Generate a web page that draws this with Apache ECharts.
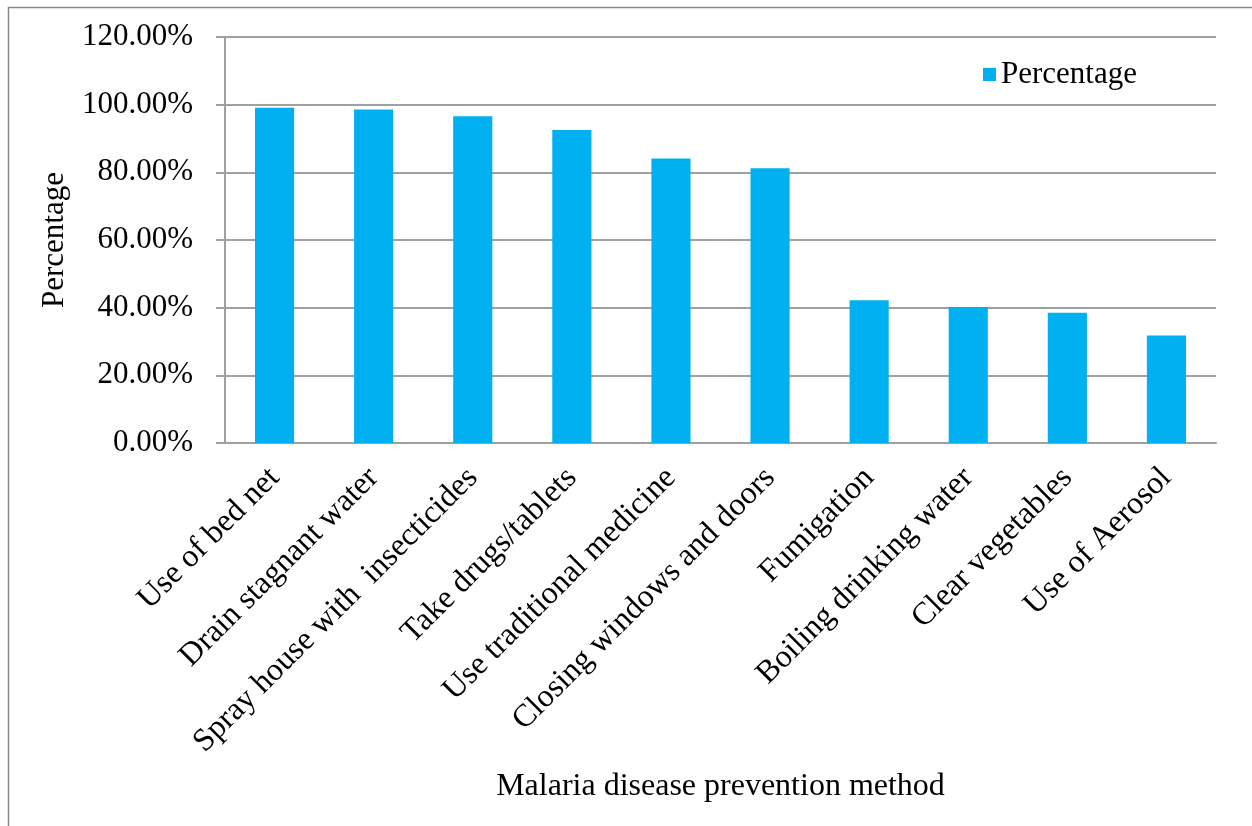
<!DOCTYPE html>
<html>
<head>
<meta charset="utf-8">
<script src="https://cdn.jsdelivr.net/npm/echarts@6/dist/echarts.min.js"></script>
<style>
  html, body { margin: 0; padding: 0; background: #fff; }
  #chart { width: 1252px; height: 826px; }
</style>
</head>
<body>
<div id="chart"></div>
<script>
// Malaria prevention methods and share of respondents using each (%)
const categories = [
  'Use of bed net',
  'Drain stagnant water',
  'Spray house with  insecticides',
  'Take drugs/tablets',
  'Use traditional medicine',
  'Closing windows and doors',
  'Fumigation',
  'Boiling drinking water',
  'Clear vegetables',
  'Use of Aerosol'
];
const percentages = [99.1, 98.6, 96.6, 92.5, 84.1, 81.2, 42.2, 40.2, 38.5, 31.8];
const seriesName = 'Percentage';
const xTitle = 'Malaria disease prevention method';
const yTitle = 'Percentage';

const FONT = '"Liberation Serif", "Times New Roman", serif';
const GRID_COLOR = '#a0a0a0';

const chart = echarts.init(document.getElementById('chart'), null, { renderer: 'canvas' });
chart.setOption({
  backgroundColor: '#ffffff',
  animation: false,
  graphic: [{
    type: 'rect',
    shape: { x: 8.5, y: 7.5, width: 1260, height: 840 },
    style: { fill: 'none', stroke: '#888888', lineWidth: 1.5 },
    silent: true
  }],
  grid: { left: 225, right: 36, top: 37, bottom: 383, containLabel: false },
  legend: {
    data: [seriesName],
    left: 978, top: 54,
    icon: 'rect', itemWidth: 13, itemHeight: 13, itemGap: 8,
    textStyle: { fontFamily: FONT, fontSize: 31, color: '#000' }
  },
  xAxis: {
    type: 'category',
    data: categories,
    name: xTitle,
    nameLocation: 'middle',
    nameGap: 328,
    nameTextStyle: { fontFamily: FONT, fontSize: 32, color: '#000', verticalAlign: 'top' },
    axisLine: { lineStyle: { color: GRID_COLOR, width: 2 } },
    axisTick: { show: false },
    axisLabel: {
      rotate: 45, interval: 0, margin: 30,
      fontFamily: FONT, fontSize: 32, color: '#000'
    }
  },
  yAxis: {
    type: 'value',
    min: 0, max: 120, interval: 20,
    name: yTitle,
    nameLocation: 'middle',
    nameGap: 155,
    nameTextStyle: { fontFamily: FONT, fontSize: 31, color: '#000' },
    axisLine: { show: true, lineStyle: { color: GRID_COLOR, width: 2 } },
    axisTick: { show: true, length: 9, lineStyle: { color: GRID_COLOR, width: 2 } },
    splitLine: { lineStyle: { color: GRID_COLOR, width: 2 } },
    axisLabel: {
      margin: 32,
      fontFamily: FONT, fontSize: 31, color: '#000',
      formatter: v => v.toFixed(2) + '%'
    }
  },
  series: [{
    name: seriesName,
    type: 'bar',
    data: percentages,
    barWidth: '39.5%',
    itemStyle: { color: '#00B0F0' }
  }]
});
</script>
</body>
</html>
